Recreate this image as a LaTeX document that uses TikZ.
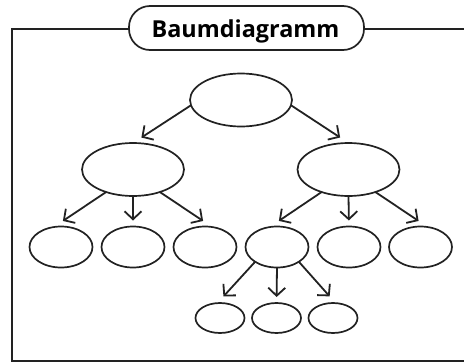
\documentclass[tikz,border=0pt]{standalone}
\usepackage{fontspec}
\setmainfont{Open Sans}
\usetikzlibrary{shapes.geometric,arrows.meta}
\definecolor{ink}{HTML}{222222}
\tikzset{
  x=1pt,y=-1pt,
  bubble/.style={draw=ink,ellipse,line width=1.7pt,fill=white,inner sep=0,outer sep=0},
  big/.style={bubble,minimum width=102pt,minimum height=53pt},
  mid/.style={bubble,minimum width=63pt,minimum height=41pt},
  small/.style={bubble,minimum width=49pt,minimum height=30pt},
  link/.style={draw=ink,line width=1.8pt,-{Straight Barb[length=8pt,width=17pt,line width=1.8pt]}},
  frameline/.style={draw=ink,line width=2pt},
  pill/.style={draw=ink,line width=1.7pt,fill=white,rounded corners=21pt,minimum width=235pt,minimum height=44pt,inner sep=0}
}
\begin{document}
\begin{tikzpicture}
\useasboundingbox (0,0) rectangle (464,362);
\fill[white] (0,0) rectangle (464,362);
\coordinate (fr1) at (464,29);
\coordinate (fr2) at (464,360.5);
\draw[frameline] (fr1) -- (11.5,29) -- (11.5,360.5) -- (fr2);
\node[pill] (title) at (246.5,28) {};
\node[font=\fontsize{23.4}{23.4}\selectfont\bfseries,inner sep=0,anchor=base] (titletext) at (245.5,37.5) {Baumdiagramm};
\node[big] (a) at (241,100) {};
\node[big] (l) at (133,169.5) {};
\node[big] (r) at (348.5,169.5) {};
\node[mid] (m1) at (61,247) {};
\node[mid] (m2) at (133,247) {};
\node[mid] (m3) at (205,247) {};
\node[mid] (m4) at (277,247) {};
\node[mid] (m5) at (349,247) {};
\node[mid] (m6) at (420.5,247) {};
\node[small] (n1) at (220,318) {};
\node[small] (n2) at (276.5,318) {};
\node[small] (n3) at (333,318) {};
\draw[link,shorten >=10pt] (a.186) -- (l.north);
\draw[link,shorten >=10pt] (a.-6) -- (r.north);
\draw[link,shorten >=11pt] (l.220) -- (m1.110);
\draw[link,shorten >=6pt] (l.south) -- (m2.north);
\draw[link,shorten >=11pt] (l.-40) -- (m3.70);
\draw[link,shorten >=11pt] (r.220) -- (m4.110);
\draw[link,shorten >=6pt] (r.south) -- (m5.north);
\draw[link,shorten >=11pt] (r.-40) -- (m6.70);
\draw[link,shorten >=9pt] (m4.214) -- (n1.100);
\draw[link,shorten >=6pt] (m4.south) -- (n2.north);
\draw[link,shorten >=9pt] (m4.-34) -- (n3.80);
\end{tikzpicture}
\end{document}
